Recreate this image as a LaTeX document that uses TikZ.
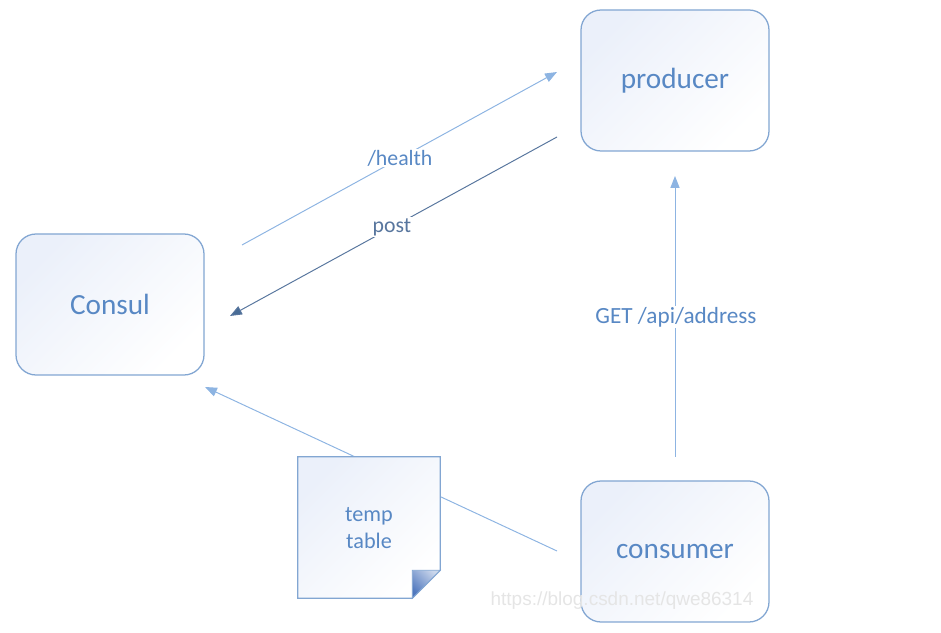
\documentclass[tikz,border=0pt]{standalone}
\usepackage{fontspec}
\setmainfont{Carlito}
\newfontfamily\markfont{Liberation Sans}
\usetikzlibrary{arrows.meta, calc}

\definecolor{boxline}{RGB}{130,166,210}
\definecolor{boxtext}{RGB}{88,136,196}
\definecolor{lightline}{RGB}{141,180,226}
\definecolor{darkline}{RGB}{88,118,158}
\definecolor{darktip}{RGB}{72,108,150}
\definecolor{boxfill}{RGB}{235,240,250}
\definecolor{foldfill}{RGB}{80,120,190}

\tikzset{
    service/.style={draw=boxline, line width=0.9pt, rounded corners=0.5cm,
        minimum width=4.7cm, minimum height=3.525cm,
        top color=boxfill, bottom color=white, shading angle=45,
        text=boxtext, font=\fontsize{20.8}{24}\selectfont},
    callline/.style={draw=lightline, line width=0.7pt,
        -{Triangle[length=8.5pt, width=6.5pt, fill=lightline]}},
    replyline/.style={draw=darkline, line width=0.7pt,
        -{Triangle[length=8.5pt, width=6.5pt, fill=darktip]}},
    calllabel/.style={fill=white, inner sep=1pt, text=boxtext,
        font=\fontsize{15.5}{18}\selectfont},
}

\begin{document}
\begin{tikzpicture}
            \useasboundingbox (0, 0) rectangle (23.525, 15.825);
            \node[service] (consul) at (2.75, 8.2125) {Consul};
            \node[service] (producer) at (16.875, 13.8125) {producer};
            \node[service] (consumer) at (16.875, 2.0375) {consumer};
            % free ends of the connectors
            \coordinate (hs) at (6.05, 9.7);
            \coordinate (he) at (13.925, 14.025);
            \coordinate (ps) at (13.925, 12.4);
            \coordinate (pe) at (5.75, 7.925);
            \coordinate (gs) at (16.875, 4.4);
            \coordinate (ge) at (16.875, 11.425);
            \coordinate (cs) at (13.925, 2.05);
            \coordinate (ce) at (5.125, 6.15);
            \draw[callline] (hs) -- (he);
            \draw[replyline] (ps) -- (pe);
            \draw[callline] (gs) -- (ge);
            \draw[callline] (cs) -- (ce);
            \node[calllabel] (hl) at (10.0, 11.875) {/health};
            \node[calllabel, text=darkline] (pl) at (9.8, 10.15) {post};
            \node[calllabel, font=\fontsize{16.5}{19}\selectfont] (gl) at (16.9, 7.9) {GET /api/address};
            % temp table note with folded corner
            \node[minimum width=3.55cm, minimum height=3.525cm] (tmp) at (9.225, 2.6375) {};
            \shade[top color=boxfill, bottom color=white, shading angle=45, draw=boxline, line width=0.9pt]
                (tmp.north west) -- (tmp.north east) -- ($(tmp.south east) + (0, 0.7)$)
                -- ($(tmp.south east) + (-0.7, 0)$) -- (tmp.south west) -- cycle;
            \shade[top color=foldfill!30, bottom color=foldfill, shading angle=-45, draw=boxline, line width=0.6pt]
                ($(tmp.south east) + (0, 0.7)$) -- ($(tmp.south east) + (-0.7, 0.7)$)
                -- ($(tmp.south east) + (-0.7, 0)$) -- cycle;
            \node[align=center, text=boxtext, font=\fontsize{15.8}{19.5}\selectfont] (tmptext) at (9.225, 2.63) {temp\\table};
            \node[text=black!10, font=\markfont\fontsize{13.5}{16}\selectfont] (mark) at (15.55, 0.8) {https://blog.csdn.net/qwe86314};
        \end{tikzpicture}
\end{document}
